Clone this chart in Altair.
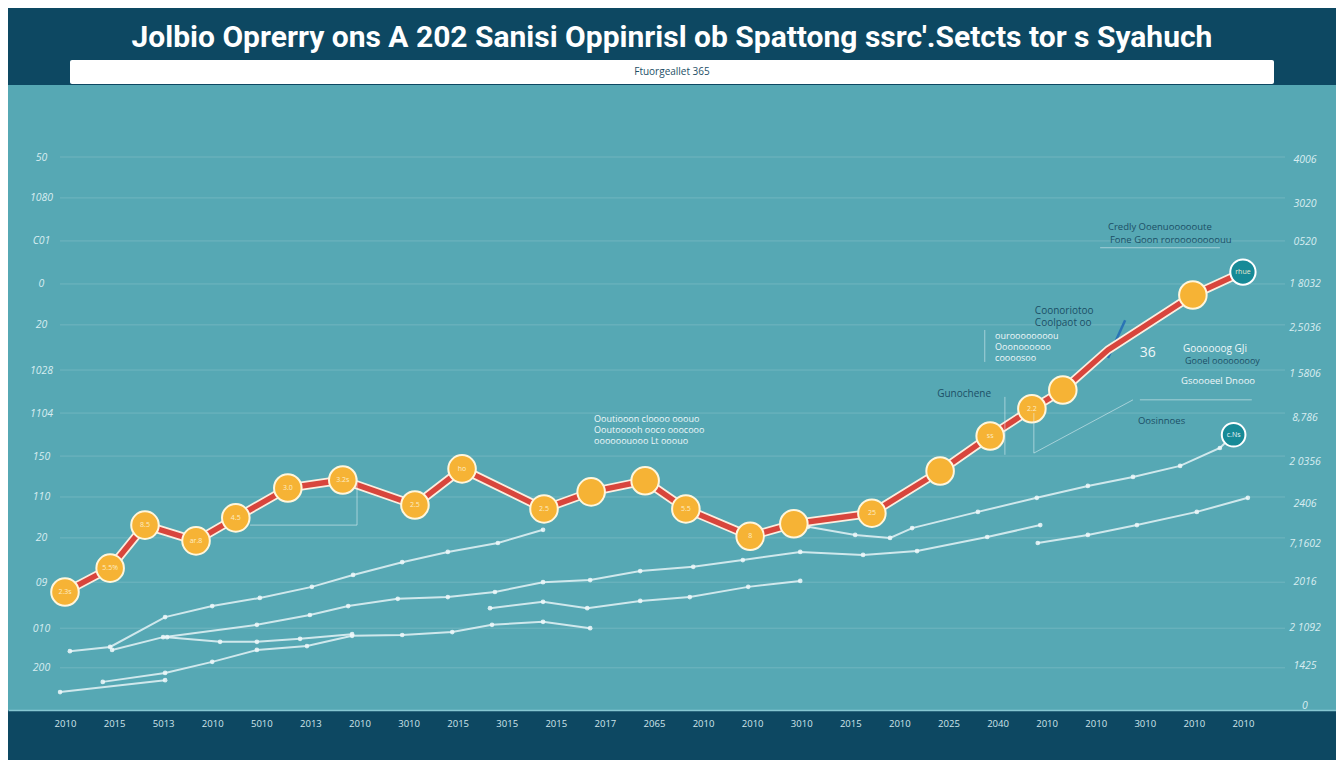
import json
import altair as alt
import pandas as pd

TITLE = "Jolbio Oprerry ons  A 202 Sanisi Oppinrisl ob Spattong ssrc'.Setcts tor s Syahuch"
SUBTITLE = "Ftuorgeallet 365"

# x axis: 25 tick positions (index) and their labels
x_labels = ["2010", "2015", "5013", "2010", "5010", "2013", "2010", "3010", "2015", "3015",
            "2015", "2017", "2065", "2010", "2010", "3010", "2015", "2010", "2025", "2040",
            "2010", "2010", "3010", "2010", "2010"]
x_ticks = list(range(25))

# left axis (bottom to top)
left_ticks = [0.99, 1.92, 3.00, 4.04, 5.00, 5.96, 6.97, 7.98, 9.04, 10.00, 11.01, 12.02, 12.98]
left_labels = ["200", "010", "09", "20", "110", "150", "1104", "1028", "20", "0", "C01", "1080", "50"]

# right axis (bottom to top)
right_ticks = [0.09, 1.03, 1.92, 3.00, 3.90, 4.84, 5.82, 6.85, 7.89, 8.97, 10.00, 10.99, 11.88, 12.91]
right_labels = ["0", "1425", "2 1092", "2016", "7,1602", "2406", "2 0356", "8,786", "1 5806",
                "2,5036", "1 8032", "0520", "3020", "4006"]

# main series
main_x = [0, 0.92, 1.63, 2.67, 3.48, 4.54, 5.66, 7.13, 8.09, 9.76, 10.72, 11.82, 12.65,
          13.96, 14.85, 16.44, 17.83, 18.85, 19.70, 20.33, 21.25, 22.98, 24.00]
main_y = [2.77, 3.33, 4.34, 3.97, 4.51, 5.21, 5.40, 4.81, 5.66, 4.72, 5.12, 5.38, 4.72,
          4.08, 4.37, 4.62, 5.61, 6.43, 7.07, 7.51, 8.45, 9.74, 10.28]
main_kind = ["dot"] * 20 + ["bend", "dot", "end"]
main_tags = ["2.3s", "5.5%", "8.5", "ar.8", "4.5", "3.0", "3.2s", "2.5", "ho", "2.5", "", "", "5.5",
             "8", "", "25", "", "ss", "2.2", "", "", "", "rhue"]

# secondary series
s1_x = [0.10, 0.92, 2.04, 3.00, 3.97, 5.03, 5.87, 6.87, 7.80, 8.82, 9.74]
s1_y = [1.38, 1.48, 2.18, 2.44, 2.63, 2.89, 3.17, 3.47, 3.71, 3.92, 4.23]
s2_x = [0.96, 2.00, 3.91, 4.99, 5.77, 6.78, 7.80, 8.76, 9.74, 10.70, 11.72, 12.80, 13.81,
        14.98, 16.26, 17.36, 18.79, 19.87]
s2_y = [1.41, 1.71, 2.00, 2.23, 2.44, 2.61, 2.65, 2.77, 3.00, 3.05, 3.26, 3.36, 3.52,
        3.71, 3.64, 3.73, 4.06, 4.34]
s3_x = [15.14, 16.10, 16.81, 17.26, 18.60, 19.80, 20.84, 21.76, 22.72, 23.53, 23.81]
s3_y = [4.30, 4.11, 4.04, 4.27, 4.65, 4.98, 5.26, 5.47, 5.73, 6.15, 6.46]
s4_x = [0.77, 2.04, 3.00, 3.91, 4.93, 5.85, 6.87, 7.89, 8.70, 9.74, 10.70]
s4_y = [0.66, 0.87, 1.13, 1.41, 1.50, 1.74, 1.76, 1.83, 2.00, 2.07, 1.92]
s5_x = [8.66, 9.74, 10.64, 11.72, 12.73, 13.92, 14.98]
s5_y = [2.39, 2.54, 2.39, 2.56, 2.65, 2.89, 3.03]
s6_x = [19.82, 20.84, 21.84, 23.06, 24.10]
s6_y = [3.92, 4.11, 4.34, 4.65, 4.98]
s7_x = [-0.10, 2.04]
s7_y = [0.42, 0.70]
s8_x = [2.08, 3.16, 3.91, 4.79, 5.85]
s8_y = [1.71, 1.60, 1.60, 1.67, 1.78]

teal_link_x = [14.85, 16.44]
teal_link_y = [4.37, 4.62]
blue_kink_x = [21.25, 21.60]
blue_kink_y = [8.26, 9.15]
s3_end_x = [23.81]
s3_end_y = [6.46]
s3_end_tag = ["c.Ns"]

# annotation leader segments
seg_x = [3.77, 5.95, 19.15, 19.74, 19.74, 18.74, 21.09, 21.90]
seg_x2 = [5.95, 5.95, 19.15, 19.74, 21.76, 18.74, 23.53, 24.18]
seg_y = [4.34, 4.34, 5.99, 6.03, 6.03, 8.17, 10.85, 7.28]
seg_y2 = [4.34, 5.45, 7.35, 6.97, 7.28, 8.92, 10.85, 7.28]

# annotation texts
ann_text = ["Credly Ooenuoooooute", "Fone Goon roroooooooouu", "Coonoriotoo", "Coolpaot oo",
            "ouroooooooou", "Ooonoooooo", "coooosoo", "36", "Goooooog GJi", "Gooel ooooooooy",
            "Gsoooeel Dnooo", "Gunochene", "Oosinnoes",
            "Ooutiooon cloooo ooouo", "Ooutooooh ooco ooocooo", "oooooouooo Lt ooouo"]
ann_x = [21.25, 21.29, 19.76, 19.76, 18.95, 18.95, 18.95, 21.90, 22.78, 22.82,
         22.74, 17.77, 21.86, 10.78, 10.78, 10.78]
ann_y = [11.34, 11.03, 9.37, 9.08, 8.78, 8.52, 8.26, 8.38, 8.47, 8.19,
         7.72, 7.42, 6.78, 6.83, 6.57, 6.31]
ann_tone = ["dark", "dark", "dark", "dark", "light", "light", "light", "light", "light", "dark",
            "light", "dark", "dark", "light", "light", "light"]
ann_size = [9.5, 9.5, 10, 10, 9, 9, 9, 14, 10, 9, 9.5, 10, 9.5, 9, 9, 9]

DARK = "#1c4f66"
LIGHT = "#eef7f9"

# ---- tables ----
main_df = pd.DataFrame({"x": main_x, "y": main_y, "kind": main_kind, "tag": main_tags})
sec_rows = []
for name, xs_, ys_ in [("s1", s1_x, s1_y), ("s2", s2_x, s2_y), ("s3", s3_x, s3_y),
                       ("s4", s4_x, s4_y), ("s5", s5_x, s5_y), ("s6", s6_x, s6_y),
                       ("s7", s7_x, s7_y), ("s8", s8_x, s8_y)]:
    for a, b in zip(xs_, ys_):
        sec_rows.append({"s": name, "x": a, "y": b})
sec_df = pd.DataFrame(sec_rows)
link_df = pd.DataFrame({"x": teal_link_x, "y": teal_link_y})
kink_df = pd.DataFrame({"x": blue_kink_x, "y": blue_kink_y})
s3end_df = pd.DataFrame({"x": s3_end_x, "y": s3_end_y, "tag": s3_end_tag})
seg_df = pd.DataFrame({"x": seg_x, "x2": seg_x2, "y": seg_y, "y2": seg_y2})
ann_df = pd.DataFrame({"t": ann_text, "x": ann_x, "y": ann_y,
                       "c": [DARK if t == "dark" else LIGHT for t in ann_tone], "fs": ann_size})
grid_df = pd.DataFrame({"y": left_ticks})
right_df = pd.DataFrame({"y": right_ticks, "t": right_labels})

xs = alt.Scale(domain=[-1.161, 25.896], nice=False, zero=False)
ys = alt.Scale(domain=[0, 14.67], nice=False, zero=False)

x_axis = alt.Axis(values=x_ticks, labelExpr=f"{json.dumps(x_labels)}[round(datum.value)]",
                  title=None, ticks=False, grid=False, domain=True, domainColor="#86c6d1",
                  domainWidth=1.5, labelColor="#cfe5eb", labelFontSize=9.5, labelFont="Open Sans",
                  labelPadding=8, labelFlush=False, labelOverlap=False)
y_axis = alt.Axis(values=left_ticks,
                  labelExpr=f"{json.dumps(left_labels)}[indexof({json.dumps(left_ticks)}, datum.value)]",
                  orient="left", offset=-50, title=None, ticks=False, domain=False, grid=False,
                  labelAlign="center", labelPadding=17, labelBaseline="middle",
                  labelColor="#d8edf1", labelFontSize=10.5, labelFont="Open Sans",
                  labelFontStyle="italic", labelOverlap=False)

X = lambda: alt.X("x:Q", scale=xs, axis=x_axis)
Y = lambda: alt.Y("y:Q", scale=ys, axis=y_axis)

grid = alt.Chart(grid_df).mark_rule(color="#ffffff", opacity=0.16, strokeWidth=1).encode(
    x=alt.value(52), x2=alt.value(1277), y=Y())

right_lbl = alt.Chart(right_df).mark_text(color="#d8edf1", fontSize=10.5, font="Open Sans",
                                          fontStyle="italic", align="center", baseline="middle").encode(
    x=alt.value(1297), y=Y(), text="t:N")

sec_lines = alt.Chart(sec_df).mark_line(color="#eef8fa", strokeWidth=2, opacity=0.8).encode(
    x=X(), y=Y(), detail="s:N")
sec_pts = alt.Chart(sec_df).mark_circle(color="#eef8fa", size=22, opacity=0.85).encode(x=X(), y=Y())

link = alt.Chart(link_df).mark_line(color="#16808d", strokeWidth=3.5).encode(x=X(), y=Y())
kink = alt.Chart(kink_df).mark_line(color="#2a74b5", strokeWidth=2.5).encode(x=X(), y=Y())

main_outline = alt.Chart(main_df).mark_line(color="#fbeee0", strokeWidth=9, strokeJoin="round",
                                            strokeCap="round").encode(x=X(), y=Y())
main_line = alt.Chart(main_df).mark_line(color="#d8453c", strokeWidth=5.5, strokeJoin="round",
                                         strokeCap="round").encode(x=X(), y=Y())
main_dots = alt.Chart(main_df).transform_filter("datum.kind == 'dot'").mark_circle(
    size=760, color="#f6b335", stroke="#fff6dc", strokeWidth=2, opacity=1).encode(x=X(), y=Y())
main_end = alt.Chart(main_df).transform_filter("datum.kind == 'end'").mark_circle(
    size=640, color="#178a97", stroke="white", strokeWidth=2, opacity=1).encode(x=X(), y=Y())
s3_end = alt.Chart(s3end_df).mark_circle(size=560, color="#178a97", stroke="white",
                                         strokeWidth=2, opacity=1).encode(x=X(), y=Y())
main_tag_txt = alt.Chart(main_df).mark_text(color="#fff3d6", fontSize=7, font="Open Sans",
                                            opacity=0.9).encode(x=X(), y=Y(), text="tag:N")
s3_tag_txt = alt.Chart(s3end_df).mark_text(color="#e9f6f8", fontSize=7, font="Open Sans").encode(
    x=X(), y=Y(), text="tag:N")

segs = alt.Chart(seg_df).mark_rule(color="#e6f3f6", opacity=0.55, strokeWidth=1).encode(
    x=X(), x2="x2:Q", y=Y(), y2="y2:Q")
anns = alt.Chart(ann_df).mark_text(align="left", baseline="middle", font="Open Sans").encode(
    x=X(), y=Y(), text="t:N", color=alt.Color("c:N", scale=None), size=alt.Size("fs:Q", scale=None))

box = alt.Chart(alt.Data(values=[{}])).mark_rect(color="white", cornerRadius=2).encode(
    x=alt.value(62), x2=alt.value(1266), y=alt.value(-25), y2=alt.value(-1))

chart = alt.layer(
    grid, right_lbl, sec_lines, sec_pts, link, kink, main_outline, main_line,
    main_dots, main_end, s3_end, main_tag_txt, s3_tag_txt, segs, anns, box
).properties(
    width=1328, height=625,
    background="#0d4862",
    padding={"left": 0, "right": 0, "top": 77, "bottom": 50},
    autosize=alt.AutoSizeParams(type="none"),
    title=alt.TitleParams(
        text=TITLE, subtitle=SUBTITLE, anchor="middle", offset=-17, frame="group",
        font="Liberation Sans Narrow, Roboto, sans-serif", fontSize=30, fontWeight="bold",
        color="white", subtitleFont="Open Sans", subtitleFontSize=10,
        subtitleColor="#1c4f66", subtitlePadding=14),
).configure_view(fill="#56a8b4", stroke=None)

chart.save("out.html", embed_options={"renderer": "svg", "actions": False})
